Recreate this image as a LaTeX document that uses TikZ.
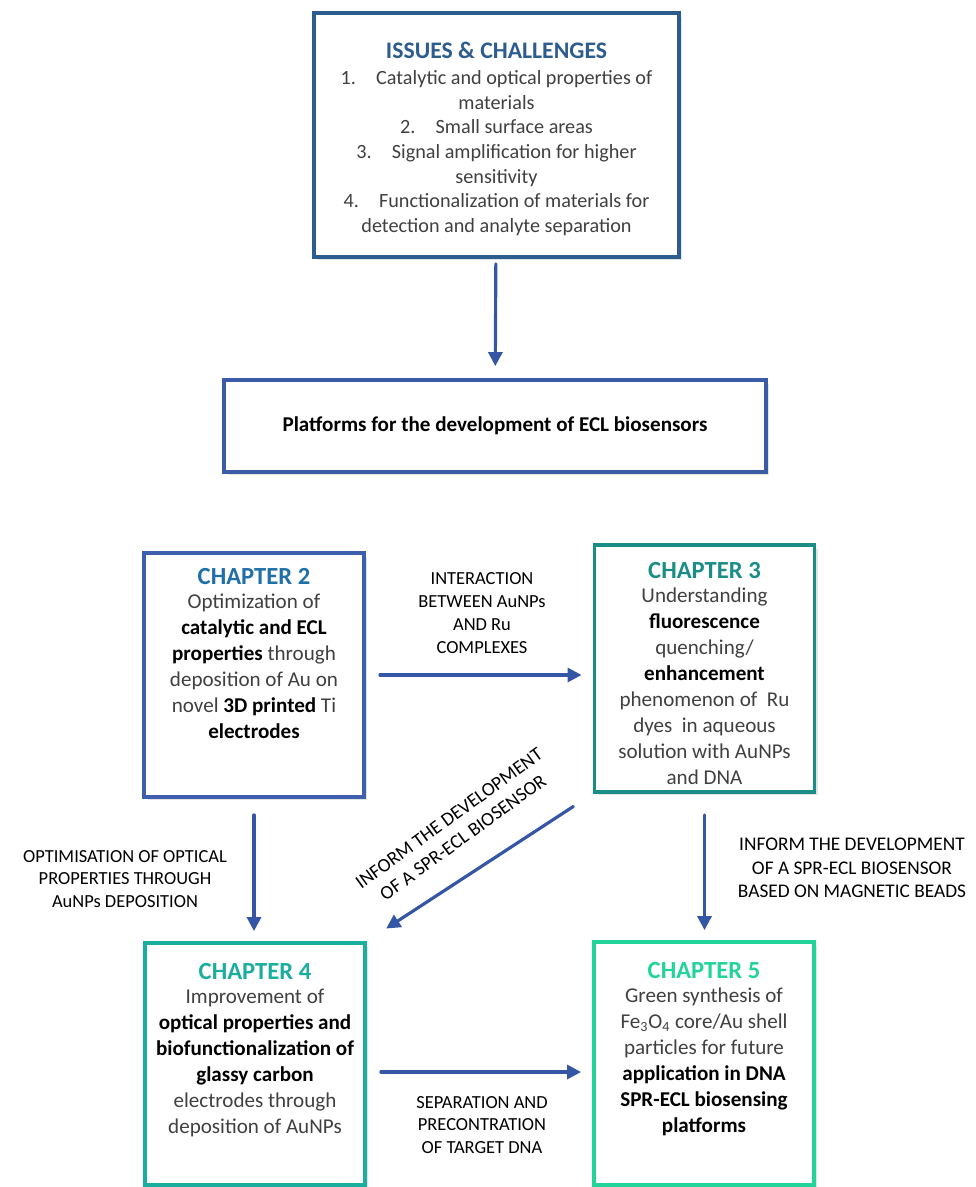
\documentclass[tikz,border=0pt]{standalone}
\usepackage{fontspec}
\setmainfont{Carlito}
\usepackage{tikz}
\usetikzlibrary{arrows.meta, calc, positioning, shadows}
\definecolor{issueblue}{HTML}{2D5C8E}
\definecolor{platblue}{HTML}{3A5BA6}
\definecolor{chtwoblue}{HTML}{3E5FAE}
\definecolor{chtwohead}{HTML}{1F6FA8}
\definecolor{chthreeteal}{HTML}{1A8E86}
\definecolor{chfourteal}{HTML}{1AAE9E}
\definecolor{chfivegreen}{HTML}{22D39A}
\definecolor{arrowblue}{HTML}{3555A5}
\definecolor{bodygray}{HTML}{404040}

\newcommand{\chaphead}[2]{{\color{#1}\fontsize{14}{16}\selectfont\bfseries #2}}
\newcommand{\bodyfont}{\fontsize{12}{14.8}\selectfont\color{bodygray}}

\begin{document}
\begin{tikzpicture}[x=0.02cm, y=-0.02cm, line cap=round, >={Triangle[length=8pt,width=8pt]},
	box/.style={draw=#1, fill=white, line width=2.2pt, line join=miter, inner sep=0pt,
		drop shadow={opacity=0.22, shadow xshift=0.07cm, shadow yshift=-0.07cm}},
	flow/.style={->, line width=1.8pt, arrowblue},
	lbl/.style={align=center, font=\fontsize{10.5}{13}\selectfont, inner sep=0pt}]
	\useasboundingbox (0,0) rectangle (976,1187);

	% top boxes
	\node[box=issueblue] (issues) at (496.5,135) {\parbox[c][4.88cm][t]{7.3cm}{\centering\vspace{0.58cm}
		{\color{issueblue}\fontsize{13.5}{15}\selectfont\bfseries ISSUES \& CHALLENGES}\\[1pt]
		\fontsize{11.5}{14}\selectfont\color{bodygray}
		1.\quad Catalytic and optical properties of\\ materials\\
		2.\quad Small surface areas\\
		3.\quad Signal amplification for higher\\ sensitivity\\
		4.\quad Functionalization of materials for\\ detection and analyte separation}};
	\node[box=platblue, minimum width=10.84cm, minimum height=1.84cm] (platforms) at (495,426)
		{\fontsize{12}{14}\selectfont\bfseries Platforms for the development of ECL biosensors};

	% chapters
	\node[box=chtwoblue] (ch2) at (254,675) {\parbox[c][4.88cm][t]{4.4cm}{\centering\vspace{0.3cm}
		\chaphead{chtwohead}{CHAPTER 2}\\[-1pt]
		\bodyfont Optimization of\\ \textbf{\color{black}catalytic and ECL}\\ \textbf{\color{black}properties} through\\
		deposition of Au on\\ novel \textbf{\color{black}3D printed} Ti\\ \textbf{\color{black}electrodes}}};
	\node[box=chthreeteal] (ch3) at (704.5,668.5) {\parbox[c][4.94cm][t]{4.4cm}{\centering\vspace{0.35cm}
		\chaphead{chthreeteal}{CHAPTER 3}\\[-1pt]
		\bodyfont Understanding\\ \textbf{\color{black}fluorescence}\\ quenching/\\ \textbf{\color{black}enhancement}\\
		phenomenon of~ Ru\\ dyes~ in aqueous\\ solution with AuNPs\\ and DNA}};
	\node[box=chfourteal] (ch4) at (255,1064) {\parbox[c][4.84cm][t]{4.4cm}{\centering\vspace{0.4cm}
		\chaphead{chfourteal}{CHAPTER 4}\\[-1pt]
		\bodyfont Improvement of\\ \textbf{\color{black}optical properties and}\\ \textbf{\color{black}biofunctionalization of}\\
		\textbf{\color{black}glassy carbon}\\ electrodes through\\ deposition of AuNPs}};
	\node[box=chfivegreen] (ch5) at (704,1063.5) {\parbox[c][4.86cm][t]{4.4cm}{\centering\vspace{0.4cm}
		\chaphead{chfivegreen}{CHAPTER 5}\\[-1pt]
		\bodyfont Green synthesis of\\ Fe\textsubscript{3}O\textsubscript{4} core/Au shell\\ particles for future\\
		\textbf{\color{black}application in DNA}\\ \textbf{\color{black}SPR-ECL biosensing}\\ \textbf{\color{black}platforms}}};

	% connectors
	\draw[flow, shorten <=0.1cm, shorten >=0.24cm] (issues) -- (platforms);
	\draw[flow, shorten <=0.28cm, shorten >=0.22cm] (ch2.east) -- (ch2.east -| ch3.west);
	\draw[flow, shorten <=0.32cm, shorten >=0.2cm] (ch2.south) -- (ch2.south |- ch4.north);
	\draw[flow, shorten <=0.42cm, shorten >=0.2cm] (ch3.south) -- (ch3.south |- ch5.north);
	\draw[flow, shorten <=0.46cm, shorten >=0.46cm] (ch3.south west) -- (ch4.north east);
	\draw[flow, shorten <=0.28cm, shorten >=0.22cm] (ch4.east |- 0,1072) -- (ch5.west |- 0,1072);

	% labels
	\node[lbl] (lblint) at (482,613) {INTERACTION\\BETWEEN AuNPs\\AND Ru\\COMPLEXES};
	\node[lbl] (lblopt) at (125,879) {OPTIMISATION OF OPTICAL\\PROPERTIES THROUGH\\AuNPs DEPOSITION};
	\node[lbl, rotate=36, font=\fontsize{11}{13.5}\selectfont] (lbldiag) at (456,828) {INFORM THE DEVELOPMENT\\OF A SPR-ECL BIOSENSOR};
	\node[lbl, font=\fontsize{11}{13.5}\selectfont] (lblmag) at (852,868) {INFORM THE DEVELOPMENT\\OF A SPR-ECL BIOSENSOR\\BASED ON MAGNETIC BEADS};
	\node[lbl] (lblsep) at (482,1125) {SEPARATION AND\\PRECONTRATION\\OF TARGET DNA};
\end{tikzpicture}
\end{document}
